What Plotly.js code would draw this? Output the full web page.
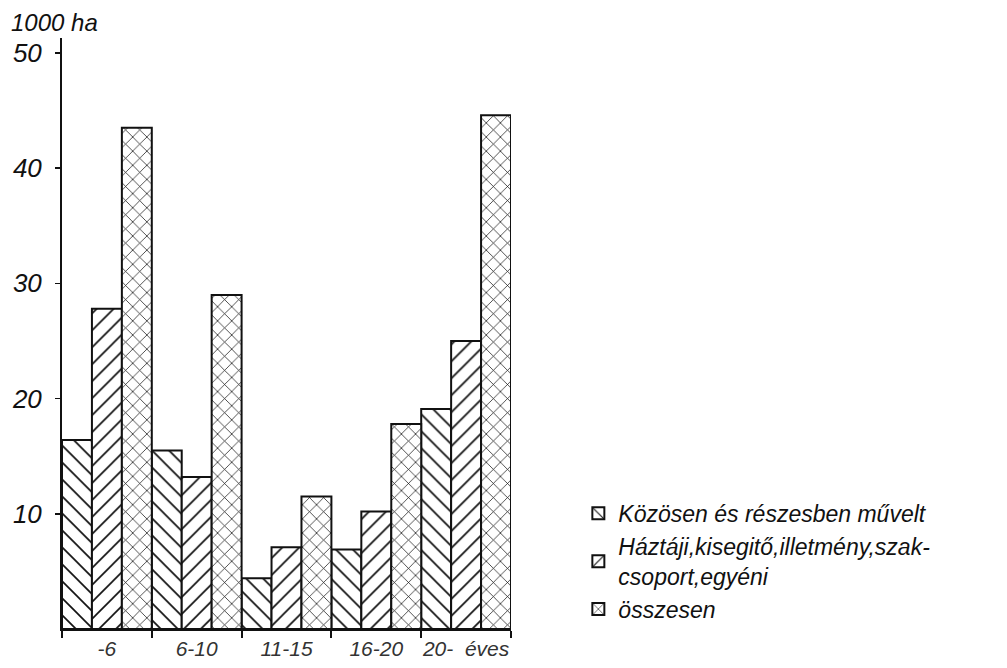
<!DOCTYPE html>
<html>
<head>
<meta charset="utf-8">
<script src="https://cdn.plot.ly/plotly-3.0.1.min.js"></script>
<style>html,body{margin:0;padding:0;background:#fff;}#chart{width:1007px;height:668px;}</style>
</head>
<body>
<div id="chart"></div>
<script>
const categories = ['-6', '6-10', '11-15', '16-20', '20-  éves'];
const seriesNames = [
  'Közösen és részesben művelt',
  'Háztáji,kisegitő,illetmény,szak-<br>csoport,egyéni',
  'összesen'
];
const kozosen = [16.4, 15.5, 4.4, 6.9, 19.1];
const haztaji = [27.8, 13.2, 7.1, 10.2, 25.0];
const osszesen = [43.5, 29.0, 11.5, 17.8, 44.6];
const yTickVals = [10, 20, 30, 40, 50];
const yUnit = '1000 ha';

const FONT = 'Liberation Sans Narrow, Liberation Sans, DejaVu Sans, sans-serif';
const shapes = ['\\', '/', 'x'];
const values = [kozosen, haztaji, osszesen];

const traces = values.map((v, i) => ({
  type: 'bar',
  x: categories,
  y: v,
  name: seriesNames[i],
  marker: {
    color: '#ffffff',
    line: {color: '#111', width: 2},
    pattern: {shape: shapes[i], fgcolor: '#111', bgcolor: '#ffffff', size: i === 2 ? 10 : 12, solidity: 0.14, fillmode: 'replace'}
  },
  hoverinfo: 'skip'
}));

const layout = {
  width: 1007, height: 668,
  paper_bgcolor: '#fff', plot_bgcolor: '#fff',
  margin: {l: 62, r: 496, t: 38, b: 39},
  barmode: 'group', bargap: 0, bargroupgap: 0,
  showlegend: true,
  font: {family: FONT, color: '#111', size: 20, style: 'italic'},
  legend: {
    x: 1.15, xanchor: 'left', y: 0.232, yanchor: 'top',
    font: {family: FONT, size: 23, color: '#111', style: 'italic'},
    tracegroupgap: 0, itemwidth: 30, bgcolor: 'rgba(0,0,0,0)'
  },
  xaxis: {
    type: 'category', range: [-0.5, 4.5],
    showline: true, linecolor: '#111', linewidth: 2,
    ticks: 'outside', tickson: 'boundaries', ticklen: 7, tickcolor: '#111', tickwidth: 2,
    tickangle: 0, automargin: false,
    tickfont: {family: FONT, size: 21, color: '#333', style: 'italic'},
    showgrid: false, zeroline: false, fixedrange: true
  },
  yaxis: {
    range: [0, 51.3],
    tickvals: yTickVals,
    showline: true, linecolor: '#111', linewidth: 2,
    ticks: 'outside', ticklen: 5, tickcolor: '#111', tickwidth: 1.5,
    ticklabelstandoff: 8,
    tickfont: {family: FONT, size: 26, color: '#111', style: 'italic'},
    showgrid: false, zeroline: false, fixedrange: true
  },
  annotations: [{
    text: yUnit, xref: 'paper', yref: 'paper',
    x: -0.118, y: 1.053, xanchor: 'left', yanchor: 'top', showarrow: false,
    font: {family: FONT, size: 24, color: '#111', style: 'italic'}
  }]
};

Plotly.newPlot('chart', traces, layout, {staticPlot: true, displayModeBar: false});
</script>
</body>
</html>
